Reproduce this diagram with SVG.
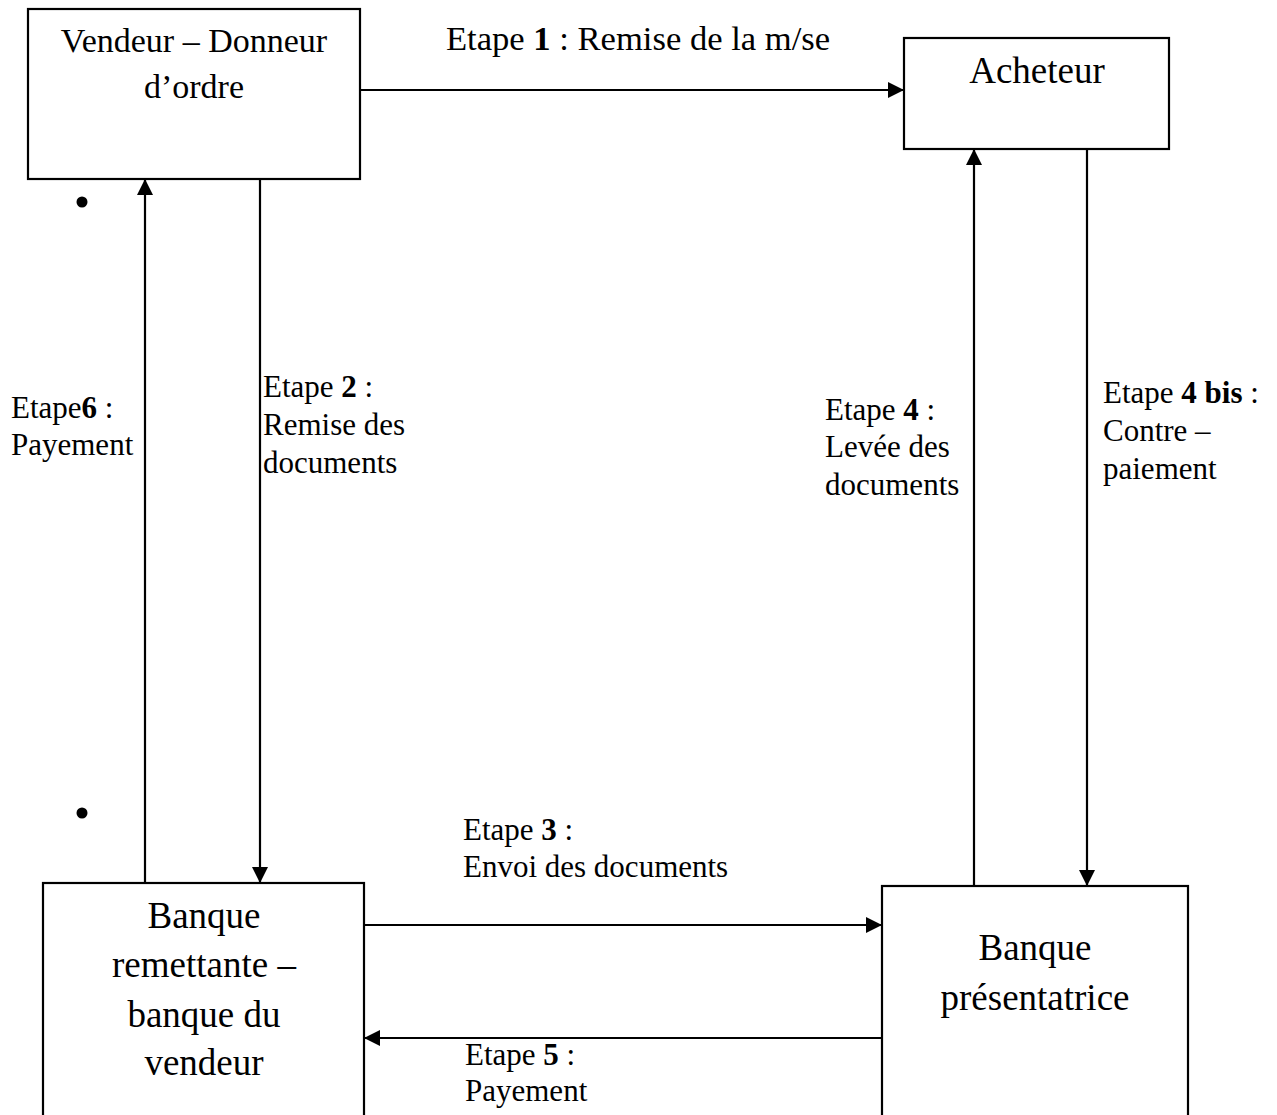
<svg xmlns="http://www.w3.org/2000/svg" width="1277" height="1115" viewBox="0 0 1277 1115">
<style>
.box{fill:#fff;stroke:#000;stroke-width:2.2}
.t{font-family:"Liberation Serif","Times New Roman",serif;fill:#000}
.bl{font-size:37px;text-anchor:middle}
.el{font-size:31px}
.b{font-weight:bold}
.c{stroke:#000;stroke-width:2.2;fill:none;marker-end:url(#ah)}
</style>
<defs>
<marker id="ah" markerUnits="userSpaceOnUse" markerWidth="16" markerHeight="16" refX="16" refY="8" orient="auto">
<path d="M0,0 L16,8 L0,16 z" fill="#000"/>
</marker>
</defs>
<rect width="1277" height="1115" fill="#fff"/>
<g id="vendeur">
<rect class="box" x="28" y="9" width="332" height="170"/>
<text class="t bl" x="194" y="52" style="font-size:34px">Vendeur – Donneur</text>
<text class="t bl" x="194" y="98" style="font-size:34px">d’ordre</text>
</g>
<g id="acheteur">
<rect class="box" x="904" y="38" width="265" height="111"/>
<text class="t bl" x="1037" y="83">Acheteur</text>
</g>
<g id="banque-remettante">
<rect class="box" x="43" y="883" width="321" height="260"/>
<text class="t bl" x="204" y="928">Banque</text>
<text class="t bl" x="204" y="977">remettante –</text>
<text class="t bl" x="204" y="1027">banque du</text>
<text class="t bl" x="204" y="1075">vendeur</text>
</g>
<g id="banque-presentatrice">
<rect class="box" x="882" y="886" width="306" height="260"/>
<text class="t bl" x="1035" y="960">Banque</text>
<text class="t bl" x="1035" y="1010">présentatrice</text>
</g>
<g id="bullets">
<circle cx="82" cy="202" r="5.5" fill="#000"/>
<circle cx="82" cy="813" r="5.5" fill="#000"/>
</g>
<g id="connectors">
<line class="c" x1="360" y1="90" x2="904" y2="90"/>
<line class="c" x1="260" y1="179" x2="260" y2="883"/>
<line class="c" x1="145" y1="882" x2="145" y2="179"/>
<line class="c" x1="364" y1="925" x2="882" y2="925"/>
<line class="c" x1="882" y1="1038" x2="364" y2="1038"/>
<line class="c" x1="974" y1="886" x2="974" y2="149"/>
<line class="c" x1="1087" y1="149" x2="1087" y2="886"/>
</g>
<g id="labels">
<text class="t" x="446" y="50" style="font-size:34.6px">Etape <tspan class="b">1</tspan> : Remise de la m/se</text>
<text class="t el" x="263" y="397">Etape <tspan class="b">2</tspan> :</text>
<text class="t el" x="263" y="435">Remise des</text>
<text class="t el" x="263" y="473">documents</text>
<text class="t el" x="11" y="418">Etape<tspan class="b">6</tspan> :</text>
<text class="t el" x="11" y="455">Payement</text>
<text class="t el" x="825" y="420">Etape <tspan class="b">4</tspan> :</text>
<text class="t el" x="825" y="457">Levée des</text>
<text class="t el" x="825" y="495">documents</text>
<text class="t el" x="1103" y="403">Etape <tspan class="b">4 bis</tspan> :</text>
<text class="t el" x="1103" y="441">Contre –</text>
<text class="t el" x="1103" y="479">paiement</text>
<text class="t el" x="463" y="840">Etape <tspan class="b">3</tspan> :</text>
<text class="t el" x="463" y="877">Envoi des documents</text>
<text class="t el" x="465" y="1065">Etape <tspan class="b">5</tspan> :</text>
<text class="t el" x="465" y="1101">Payement</text>
</g>
</svg>
